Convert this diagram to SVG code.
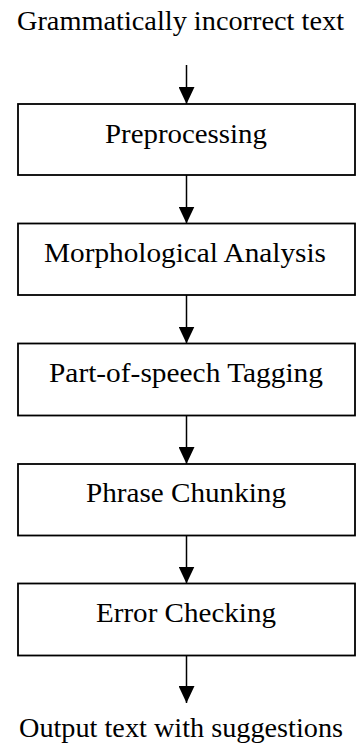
<svg xmlns="http://www.w3.org/2000/svg" width="359" height="747" viewBox="0 0 359 747">
  <style>
    .box { fill: #fff; stroke: #000; stroke-width: 1.8; }
    .lbl { font-family: "Liberation Serif", "Times New Roman", serif; font-size: 27px; fill: #000; text-anchor: middle; }
    .edge { stroke: #000; stroke-width: 1.5; fill: none; marker-end: url(#head); }
  </style>
  <defs>
    <!-- solid triangular arrowhead, tip at the end of the line -->
    <marker id="head" markerWidth="17" markerHeight="16" refX="17" refY="8" orient="auto" markerUnits="userSpaceOnUse" viewBox="0 0 17 16">
      <path d="M0,0 L17,8 L0,16 Z" fill="#000"/>
    </marker>
  </defs>
  <rect width="359" height="747" fill="#fff"/>

  <g id="input"><text class="lbl" x="180.5" y="30" textLength="327" lengthAdjust="spacingAndGlyphs">Grammatically incorrect text</text></g>

  <g id="preprocessing">
    <rect class="box" x="18" y="104" width="337" height="71"/>
    <text class="lbl" x="186" y="143" textLength="162" lengthAdjust="spacingAndGlyphs">Preprocessing</text>
  </g>
  <g id="morphological-analysis">
    <rect class="box" x="18" y="223.5" width="337" height="71.5"/>
    <text class="lbl" x="185" y="262" textLength="282" lengthAdjust="spacingAndGlyphs">Morphological Analysis</text>
  </g>
  <g id="pos-tagging">
    <rect class="box" x="18" y="343.5" width="337" height="72"/>
    <text class="lbl" x="186" y="382" textLength="274" lengthAdjust="spacingAndGlyphs">Part-of-speech Tagging</text>
  </g>
  <g id="phrase-chunking">
    <rect class="box" x="18" y="464" width="337" height="71.5"/>
    <text class="lbl" x="186" y="502" textLength="200" lengthAdjust="spacingAndGlyphs">Phrase Chunking</text>
  </g>
  <g id="error-checking">
    <rect class="box" x="18" y="583.5" width="337" height="72"/>
    <text class="lbl" x="186" y="622" textLength="180" lengthAdjust="spacingAndGlyphs">Error Checking</text>
  </g>

  <g id="output"><text class="lbl" x="181" y="737" textLength="324" lengthAdjust="spacingAndGlyphs">Output text with suggestions</text></g>

  <g id="connectors">
    <path class="edge" d="M186.5,65 V104"/>
    <path class="edge" d="M186.5,175 V223.5"/>
    <path class="edge" d="M186.5,295 V343.5"/>
    <path class="edge" d="M186.5,415.5 V464"/>
    <path class="edge" d="M186.5,535.5 V583.5"/>
    <path class="edge" d="M186.5,655.5 V703"/>
  </g>
</svg>
